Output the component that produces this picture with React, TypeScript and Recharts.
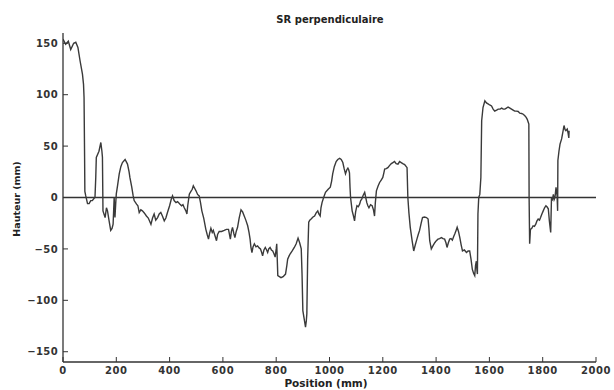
import React from 'react';
import { LineChart, Line, XAxis, YAxis, ReferenceLine } from 'recharts';

const title = 'SR perpendiculaire';
const xLabel = 'Position (mm)';
const yLabel = 'Hauteur (mm)';
const xTicks = [0, 200, 400, 600, 800, 1000, 1200, 1400, 1600, 1800, 2000];
const yTicks = [-150, -100, -50, 0, 50, 100, 150];

const positions = [
  0, 10, 20, 29, 40, 48, 56, 64, 73, 77, 79, 81, 82, 85, 92, 98, 104, 110, 116, 120,
  123, 125, 135, 142, 146, 148, 150, 158, 163, 167, 173, 179, 184, 188, 192, 195, 198, 200, 205, 211,
  217, 223, 233, 242, 248, 251, 258, 263, 267, 276, 281, 286, 292, 298, 305, 313, 320, 330, 336, 342,
  348, 355, 361, 367, 373, 380, 386, 392, 400, 406, 411, 417, 424, 430, 439, 445, 450, 455, 461, 465,
  468, 474, 480, 485, 489, 494, 499, 505, 511, 516, 521, 528, 536, 541, 546, 550, 555, 560, 564, 570,
  576, 580, 586, 595, 605, 613, 621, 628, 632, 636, 641, 645, 650, 655, 661, 668, 674, 680, 686, 693,
  698, 702, 705, 709, 713, 718, 724, 730, 736, 741, 745, 749, 754, 759, 764, 768, 772, 777, 782, 787,
  792, 796, 800, 802, 804, 806, 812, 818, 826, 835, 840, 843, 848, 852, 860, 868, 875, 882, 888, 894,
  897, 900, 905, 910, 913, 915, 918, 922, 926, 931, 938, 944, 950, 956, 960, 965, 968, 972, 978, 985,
  995, 1003, 1008, 1012, 1018, 1025, 1031, 1038, 1044, 1050, 1055, 1060, 1065, 1069, 1072, 1075, 1077, 1079, 1085, 1090,
  1094, 1098, 1103, 1108, 1113, 1117, 1121, 1126, 1132, 1136, 1140, 1144, 1148, 1154, 1160, 1165, 1169, 1172, 1176, 1182,
  1188, 1194, 1200, 1204, 1207, 1213, 1219, 1225, 1232, 1238, 1244, 1250, 1257, 1263, 1269, 1275, 1282, 1288, 1291, 1294,
  1298, 1303, 1310, 1316, 1322, 1328, 1333, 1338, 1344, 1349, 1356, 1364, 1370, 1373, 1376, 1382, 1388, 1395, 1401, 1407,
  1413, 1420, 1426, 1432, 1437, 1441, 1446, 1451, 1456, 1461, 1466, 1470, 1475, 1479, 1484, 1489, 1494, 1499, 1506, 1514,
  1520, 1526, 1531, 1536, 1541, 1545, 1548, 1551, 1553, 1555, 1557, 1560, 1564, 1568, 1571, 1576, 1583, 1589, 1595, 1601,
  1608, 1614, 1620, 1627, 1633, 1640, 1646, 1652, 1658, 1664, 1670, 1677, 1683, 1689, 1695, 1701, 1708, 1714, 1721, 1727,
  1733, 1738, 1742, 1746, 1748, 1749, 1751, 1754, 1759, 1764, 1769, 1774, 1778, 1783, 1788, 1792, 1797, 1802, 1807, 1812,
  1816, 1821, 1825, 1830, 1833, 1836, 1840, 1843, 1846, 1850, 1854, 1856, 1857, 1861, 1865, 1871, 1876, 1880, 1884, 1887,
  1892, 1895, 1898, 1899,
];

const heights = [
  154, 149, 152, 144, 150, 151, 146, 133, 120, 110, 97, 40, 6, 2, -6, -6, -3, -3, -1, 0,
  20, 39, 45, 53.5, 45, 39, -13, -19.5, -10, -13, -22.7, -32, -30, -26, 0, -19.5, -5, 3.5, 12, 23,
  30, 34, 37, 32.5, 25, 19.5, 10, 2, -3, -6.5, -8, -14.6, -12, -13, -15, -18, -20, -26, -20, -16,
  -22, -19.5, -16, -14.6, -18, -22.7, -20, -14.6, -8, -2, 1.6, -3, -5, -4, -6.5, -8, -7, -10, -13, -16,
  -8, 3.3, 6, 8, 11.4, 9, 6.5, 3, 1.6, -5, -13, -20, -31, -36, -40.5, -35, -30, -34, -32, -37,
  -42, -36, -33, -33, -32, -31, -31, -40.5, -33, -29, -35, -39, -33, -29, -20, -12, -14, -18, -22, -27.5,
  -34, -40.5, -48, -53.5, -48, -45, -48, -47, -49, -50, -53, -56.7, -51, -48.6, -51, -53.5, -50, -48.6, -51, -52,
  -55, -58, -50, -45, -60, -76, -77, -78, -77, -74.5, -66, -60, -57, -55, -52, -48.6, -45, -39.5, -44, -50,
  -75, -110, -118, -126, -120, -113, -60, -24, -22, -21, -19, -18, -15, -13, -16, -18, -10, -5, 0, 5,
  8, 10, 16, 23, 30, 35, 37, 38, 37, 34, 28, 23, 27, 28.6, 27, 24, 10, 0, -13, -18,
  -22.7, -14, -8, -9, -6.5, -3, -1.6, 2, 5, 0, -5, -8, -10, -7, -8, -12, -18, -5, 6.5, 11,
  14.6, 17, 19.5, 24, 27.6, 28, 29, 31, 33, 34, 35, 33, 32.5, 35, 34, 33, 32, 30, 29, 0,
  -15, -29, -42, -52, -46, -40.5, -36, -32, -25, -19.5, -19, -19.5, -21, -30, -42, -50, -47, -44, -42, -40.5,
  -40, -39, -40, -40.5, -44, -48.6, -44, -40.5, -40, -41.5, -38, -35.6, -32, -29, -33, -39, -46, -52, -51, -53.5,
  -52, -52, -60, -70, -74, -76, -66, -62, -70, -74.5, -16, 0, 3, 19.5, 74.6, 87.5, 94, 92, 91, 90,
  89, 86, 84, 85, 86, 86, 87, 86, 86, 87, 88, 87, 86, 85, 84, 84, 83.7, 82, 81.7, 81,
  79.5, 78, 76, 73, 71.4, 0, -45, -31, -30, -27.5, -28, -26, -23, -21, -22, -19.5, -16, -13, -10, -8,
  -9, -11, -22.7, -34, 0, -3, 3, -2, 0, 10, 1.6, -13, 36, 45, 52, 57, 64, 70, 66, 65,
  66.5, 63, 58, 65,
];

const data = positions.map((p, i) => ({ pos: p, h: heights[i] }));

const INK = '#333333';
const FONT = 'DejaVu Sans';

const BottomTick = (props: any) => {
  const { x, y, payload } = props;
  return (
    <g>
      <line x1={x} x2={x} y1={y} y2={y - 5} stroke={INK} strokeWidth={1} />
      <text x={x} y={y + 12} textAnchor="middle" fontFamily={FONT} fontWeight="bold" fontSize={10} fill={INK} letterSpacing={0.6}>
        {payload.value}
      </text>
    </g>
  );
};

const TopTick = (props: any) => {
  const { x, y } = props;
  return <line x1={x} x2={x} y1={y} y2={y + 5} stroke={INK} strokeWidth={1} />;
};

const LeftTick = (props: any) => {
  const { x, y, payload } = props;
  const v = payload.value;
  const label = v < 0 ? '\u2212' + Math.abs(v) : String(v);
  return (
    <g>
      <line x1={x} x2={x + 5} y1={y} y2={y} stroke={INK} strokeWidth={1} />
      <text x={x - 5} y={y + 3.6} textAnchor="end" fontFamily={FONT} fontWeight="bold" fontSize={10} fill={INK} letterSpacing={0.4}>
        {label}
      </text>
    </g>
  );
};

const RightTick = (props: any) => {
  const { x, y } = props;
  return <line x1={x - 5} x2={x} y1={y} y2={y} stroke={INK} strokeWidth={1} />;
};

export default function App() {
  return (
    <div style={{ position: 'absolute', left: 0, top: 0, width: 614, height: 390, background: '#fff' }}>
      <LineChart width={614} height={390} data={data} margin={{ top: 33, right: 18, bottom: 0, left: 0 }}>
        <XAxis
          dataKey="pos"
          type="number"
          domain={[0, 2000]}
          ticks={xTicks}
          allowDataOverflow
          height={28}
          tickSize={0}
          tickMargin={0}
          tickLine={false}
          axisLine={{ stroke: INK, strokeWidth: 1.3 }}
          tick={<BottomTick />}
          interval={0}
        />
        <XAxis
          xAxisId="top"
          orientation="top"
          dataKey="pos"
          type="number"
          domain={[0, 2000]}
          ticks={xTicks}
          height={0}
          tickSize={0}
          tickMargin={0}
          tickLine={false}
          axisLine={{ stroke: INK, strokeWidth: 1.3 }}
          tick={<TopTick />}
          interval={0}
        />
        <YAxis
          type="number"
          domain={[-160, 160]}
          ticks={yTicks}
          allowDataOverflow
          width={63}
          tickSize={0}
          tickMargin={0}
          tickLine={false}
          axisLine={{ stroke: INK, strokeWidth: 1.3 }}
          tick={<LeftTick />}
          interval={0}
        />
        <YAxis
          yAxisId="right"
          orientation="right"
          type="number"
          domain={[-160, 160]}
          ticks={yTicks}
          width={0}
          tickSize={0}
          tickMargin={0}
          tickLine={false}
          axisLine={{ stroke: INK, strokeWidth: 1.3 }}
          tick={<RightTick />}
          interval={0}
        />
        <ReferenceLine y={0} stroke={INK} strokeWidth={1.6} ifOverflow="extendDomain" />
        <Line
          dataKey="h"
          type="linear"
          stroke="#3a3a3a"
          strokeWidth={1.4}
          dot={false}
          isAnimationActive={false}
        />
      </LineChart>
      <svg width={614} height={390} style={{ position: 'absolute', left: 0, top: 0, pointerEvents: 'none' }}>
        <text x={330} y={23} textAnchor="middle" fontFamily={FONT} fontWeight="bold" fontSize={10} fill="#222">
          {title}
        </text>
        <text x={326} y={386.5} textAnchor="middle" fontFamily={FONT} fontWeight="bold" fontSize={10.5} fill="#222">
          {xLabel}
        </text>
        <text transform="translate(20,199) rotate(-90)" textAnchor="middle" fontFamily={FONT} fontWeight="bold" fontSize={9.5} fill="#222">
          {yLabel}
        </text>
      </svg>
    </div>
  );
}
